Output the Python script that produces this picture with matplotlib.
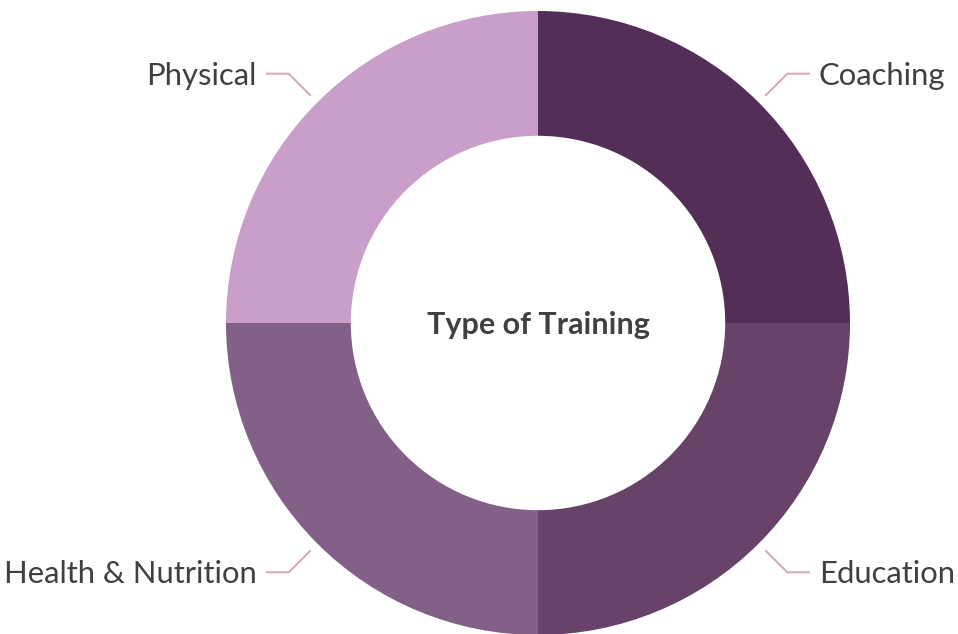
import numpy as np
import matplotlib.pyplot as plt

plt.rcParams['font.family'] = ['Lato', 'DejaVu Sans']

# slices go clockwise from 12 o'clock
labels = ['Coaching', 'Education', 'Health & Nutrition', 'Physical']
values = [25, 25, 25, 25]
colors = ['#532f58', '#67436a', '#836087', '#c99fc9']
center_title = 'Type of Training'

W, H = 958, 634
fig = plt.figure(figsize=(W / 100, H / 100), dpi=100)
ax = fig.add_axes([0, 0, 1, 1])

cx, cy, R = 538, H - 323, 312
wedges, _ = ax.pie(values, colors=colors, radius=R, center=(cx, cy),
                   startangle=90, counterclock=False,
                   wedgeprops=dict(width=0.4 * R, linewidth=0))

# labels with elbow connectors
for w, lab in zip(wedges, labels):
    mid = np.deg2rad((w.theta1 + w.theta2) / 2)
    dx, dy = np.cos(mid), np.sin(mid)
    side = 1 if dx > 0 else -1
    p0 = (cx + 1.03 * R * dx, cy + 1.03 * R * dy)
    p1 = (cx + 1.13 * R * dx, cy + 1.13 * R * dy)
    p2 = (cx + side * 272, p1[1])
    ax.plot([p0[0], p1[0], p2[0]], [p0[1], p1[1], p2[1]],
            color='#d8abb4', lw=1.5, solid_capstyle='butt')
    ax.text(cx + side * 281, p1[1] - 2, lab, ha='left' if side > 0 else 'right',
            va='center', fontsize=22.3, color='#404040')

ax.text(cx, cy - 2, center_title, ha='center', va='center', fontsize=22,
        fontweight='bold', color='#404040')

ax.set_xlim(0, W)
ax.set_ylim(0, H)
ax.set_aspect('equal')
ax.axis('off')
fig.savefig('out.png', dpi=100, facecolor='white')
